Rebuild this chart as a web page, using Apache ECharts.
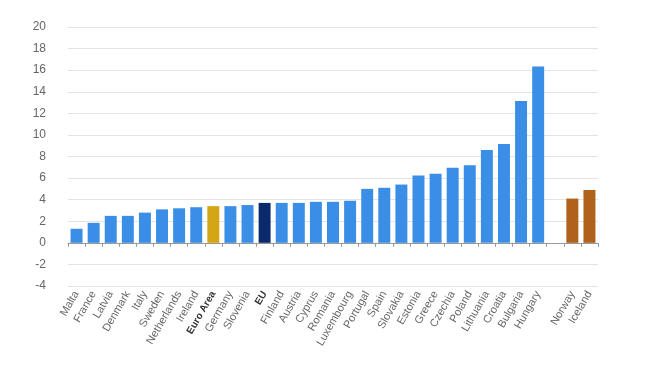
<!DOCTYPE html>
<html><head><meta charset="utf-8">
<script src="https://cdn.jsdelivr.net/npm/echarts@6/dist/echarts.min.js"></script>
<style>html,body{margin:0;padding:0;background:#fff}#c{width:650px;height:365px}</style>
</head><body><div id="c"></div>
<script>
const categories = ["Malta","France","Latvia","Denmark","Italy","Sweden","Netherlands","Ireland","Euro Area","Germany","Slovenia","EU","Finland","Austria","Cyprus","Romania","Luxembourg","Portugal","Spain","Slovakia","Estonia","Greece","Czechia","Poland","Lithuania","Croatia","Bulgaria","Hungary","","Norway","Iceland"];
const values = [1.3,1.85,2.5,2.5,2.8,3.1,3.2,3.3,3.4,3.4,3.5,3.7,3.7,3.7,3.8,3.8,3.9,5.0,5.1,5.4,6.25,6.4,6.95,7.2,8.6,9.15,13.15,16.35,null,4.1,4.9];
const yTicks = {min:-4, max:20, interval:2};
const colorMain = '#3a8ee6', colorEA = '#d4a615', colorEU = '#0b2a6e', colorNonEU = '#b0611c';
const bold = new Set(['Euro Area','EU']);
const data = values.map((v,i)=>{
  const c = categories[i];
  let col = colorMain;
  if (c==='Euro Area') col = colorEA;
  else if (c==='EU') col = colorEU;
  else if (c==='Norway'||c==='Iceland') col = colorNonEU;
  return {value:v, itemStyle:{color:col}};
});
const chart = echarts.init(document.getElementById('c'));
chart.setOption({
  animation:false,
  grid:{left:68,right:52,top:27,bottom:79},
  xAxis:{type:'category',data:categories,
    axisLine:{lineStyle:{color:'#999'}},
    axisTick:{show:true,alignWithLabel:false,lineStyle:{color:'#999'},length:4},
    axisLabel:{interval:0,rotate:60,fontSize:11,color:'#666',margin:6,fontFamily:'Arial, Liberation Sans, sans-serif',
      formatter:v=> bold.has(v)?'{b|'+v+'}':v,
      rich:{b:{fontWeight:'bold',color:'#333',fontSize:10,fontFamily:'Arial, Liberation Sans, sans-serif'}}}},
  yAxis:{type:'value',min:yTicks.min,max:yTicks.max,interval:yTicks.interval,
    axisLabel:{fontSize:12,color:'#666',margin:22,fontFamily:'Arial, Liberation Sans, sans-serif'},
    axisLine:{show:false},axisTick:{show:false},
    splitLine:{lineStyle:{color:'#e3e3e3'}}},
  series:[{type:'bar',data:data,barCategoryGap:'30%'}]
});
</script></body></html>
